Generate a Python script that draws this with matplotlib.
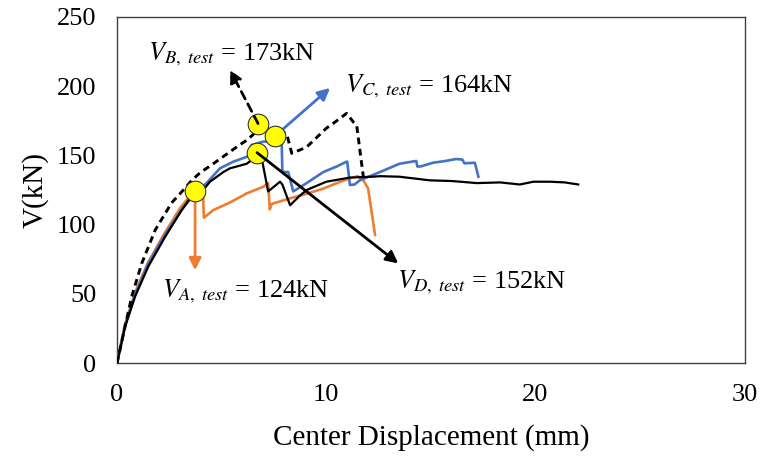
import matplotlib
matplotlib.use("Agg")
import matplotlib.pyplot as plt

plt.rcParams['font.family'] = ['Liberation Serif', 'DejaVu Serif']
plt.rcParams['mathtext.fontset'] = 'stix'

# specimen A (orange)
xA = [0, 0.36, 0.84, 1.46, 2.24, 3.02, 3.6, 3.9, 4.1, 4.15, 4.6, 5.4, 6.2, 7.0, 7.22, 7.3, 7.4,
      8.27, 9.0, 9.85, 10.5, 11.13, 11.5, 11.77, 12.0, 12.33]
yA = [0, 27, 50, 72, 93, 112, 123, 126, 127, 105, 110.5, 116, 122.6, 127.4, 130, 111, 115,
      119, 122, 126, 130, 133.5, 135, 132, 126, 92.5]

# specimen B (black dashed)
xB = [0, 0.7, 1.18, 1.82, 2.6, 3.17, 3.57, 3.97, 4.6, 5.4, 5.9, 6.2, 6.5, 6.74, 7.4, 8.1,
      8.35, 9.06, 10.0, 10.5, 10.97, 11.3, 11.45, 11.77]
yB = [0, 48, 72, 96, 115.6, 125, 132, 137.5, 144, 152.7, 158, 161, 165, 170, 168, 166,
      151.5, 156, 169.6, 175, 180.4, 174, 172, 134.6]

# specimen C (blue)
xC = [0, 0.4, 0.9, 1.5, 2.3, 3.1, 3.64, 4.28, 4.92, 5.56, 6.2, 6.3, 6.43, 7.0, 7.55, 7.87,
      7.9, 8.18, 8.42, 9.06, 9.86, 10.5, 10.97, 11.0, 11.13, 11.35, 11.6, 12.57, 13.5, 14.3,
      14.35, 14.5, 15.1, 15.7, 16.2, 16.5, 16.6, 17.1, 17.27]
yC = [0, 28, 51, 72, 93, 111, 121, 130, 140.7, 145.5, 149, 150, 157.5, 160, 160, 158.7,
      138, 138, 124, 130, 138, 142, 145.5, 145.5, 128.6, 129, 132, 138, 144, 146,
      142, 142, 144.7, 146, 147.4, 147, 144.3, 144.7, 134.6]

# specimen D (black solid)
xD = [0, 0.38, 0.86, 1.5, 2.29, 3.09, 3.65, 4.12, 4.44, 5.08, 5.4, 5.72, 6.2, 6.43, 6.69,
      6.9, 7.22, 7.79, 7.9, 8.27, 8.74, 9.06, 10.0, 11.13, 12.2, 12.57, 13.5, 14.95, 16.0,
      17.2, 18.3, 19.25, 19.9, 20.7, 21.4, 22.04]
yD = [0, 26, 48, 70, 91, 110.5, 122.6, 125, 131, 138, 140.7, 142, 144, 146.7, 150,
      149, 124, 131, 129, 114, 121, 125, 131, 134, 134.6, 135, 134.6, 132, 131.5,
      130, 130.5, 129, 131, 131, 130.5, 129]

# peak shear per specimen, where its arrow points and where its label sits
peak_names = ['A', 'B', 'C', 'D']
peak_x = [3.73, 6.74, 7.55, 6.69]
peak_v = [124, 173, 164, 152]
tip_x = [3.73, 5.4, 10.18, 13.44]
tip_v = [67, 211.7, 198.7, 72]
label_x = [2.13, 1.48, 10.9, 13.4]
label_v = [47.7, 219, 195.8, 54.2]

orange = '#ED7D31'
blue = '#4472C4'

fig = plt.figure(figsize=(7.6, 4.59), dpi=100)
ax = fig.add_axes([0.154, 0.209, 0.826, 0.754])

lw = 1.9
ax.plot(xA, yA, color=orange, lw=lw, zorder=3)
ax.plot(xC, yC, color=blue, lw=lw, zorder=3)
ax.plot(xD, yD, color='black', lw=1.6, zorder=4)
ax.plot(xB, yB, color='black', lw=2.1, ls=(0, (2.3, 1.6)), zorder=4)

arrow_styles = {
    'A': dict(color=orange, ls='-', z=5),
    'B': dict(color='black', ls=(0, (3, 2)), z=7),
    'C': dict(color=blue, ls='-', z=5),
    'D': dict(color='black', ls='-', z=7),
}
for name, px, pv, tx, tv, lx, lv in zip(peak_names, peak_x, peak_v, tip_x, tip_v,
                                        label_x, label_v):
    st = arrow_styles[name]
    ax.annotate('', xy=(tx, tv), xytext=(px, pv),
                arrowprops=dict(arrowstyle='-|>', color=st['color'], lw=2.0,
                                linestyle=st['ls'], mutation_scale=18,
                                shrinkA=0, shrinkB=0),
                zorder=st['z'])
    ax.scatter([px], [pv], s=220, color='#FFFF00', edgecolors='#333333',
               linewidths=0.8, zorder=6)
    ax.text(lx, lv, r'$V_{%s,\ test}$ = %dkN' % (name, pv), fontsize=19,
            ha='left', va='baseline', zorder=8)

ax.set_xlim(0, 30)
ax.set_ylim(0, 250)
ax.set_xticks([0, 10, 20, 30])
ax.set_yticks([0, 50, 100, 150, 200, 250])
ax.tick_params(length=0, pad=15, labelsize=19)
for sp in ax.spines.values():
    sp.set_color('#404040')
    sp.set_linewidth(1.0)

ax.set_xlabel('Center Displacement (mm)', fontsize=21, labelpad=13)
ax.set_ylabel('V(kN)', fontsize=21, labelpad=6)

fig.savefig('out.png', dpi=100)
